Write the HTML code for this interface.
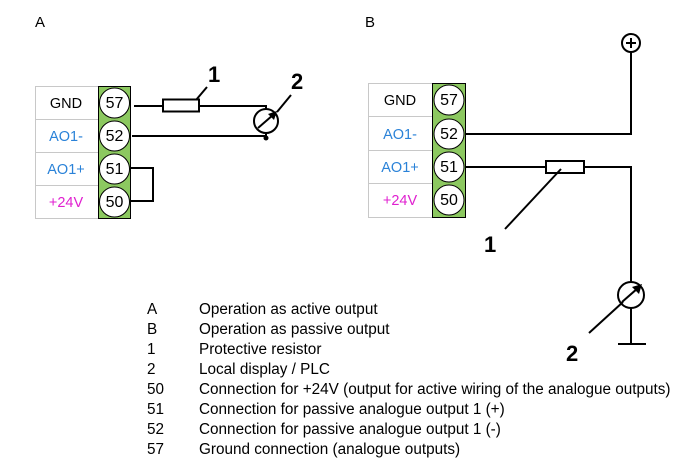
<!DOCTYPE html>
<html><head><meta charset="utf-8"><style>
html,body{margin:0;padding:0;background:#fff;}
svg{display:block;}
text{font-family:"Liberation Sans",Arial,sans-serif;}
</style></head><body>
<svg width="699" height="462" viewBox="0 0 699 462" xmlns="http://www.w3.org/2000/svg">
<text x="35" y="27" font-size="15">A</text>
<text x="365" y="27" font-size="15">B</text>

<!-- Panel A table -->
<g stroke="#c8c8c8" stroke-width="1" fill="#fff">
<rect x="35.5" y="86.5" width="63" height="132"/>
<line x1="35" y1="119.5" x2="98" y2="119.5"/>
<line x1="35" y1="152.5" x2="98" y2="152.5"/>
<line x1="35" y1="185.5" x2="98" y2="185.5"/>
</g>
<rect x="98.5" y="86.5" width="32" height="132" fill="#8cc860" stroke="#000" stroke-width="1"/>
<g stroke="#000" stroke-width="1" fill="#fff">
<circle cx="114.5" cy="103" r="15"/><circle cx="114.5" cy="136" r="15"/>
<circle cx="114.5" cy="169" r="15"/><circle cx="114.5" cy="202" r="15"/>
</g>
<g font-size="14.5" text-anchor="middle">
<text x="66" y="108">GND</text>
<text x="66" y="141" fill="#2a82d8">AO1-</text>
<text x="66" y="174" fill="#2a82d8">AO1+</text>
<text x="66" y="207" fill="#e020d0">+24V</text>
<text x="114.5" y="108" font-size="16">57</text>
<text x="114.5" y="141" font-size="16">52</text>
<text x="114.5" y="174" font-size="16">51</text>
<text x="114.5" y="207" font-size="16">50</text>
</g>
<g stroke="#000" stroke-width="2" fill="none">
<polyline points="134,106 163,106"/>
<rect x="163" y="99.5" width="36" height="12" fill="#fff"/>
<polyline points="199,106 266,106 266,110"/>
<circle cx="266" cy="121" r="12"/>
<line x1="132" y1="136" x2="266" y2="136"/>
<line x1="266" y1="133" x2="266" y2="137"/>
<polyline points="131,168 153,168 153,201 131,201"/>
<line x1="258" y1="128" x2="273" y2="115"/>
<line x1="196" y1="100" x2="207" y2="87"/>
<line x1="277" y1="112" x2="291" y2="95"/>
</g>
<polygon points="277,111 268,114 274,120" fill="#000"/>
<circle cx="266" cy="138" r="2.5" fill="#000"/>
<text x="208" y="82" font-size="22" font-weight="bold">1</text>
<text x="291" y="89" font-size="22" font-weight="bold">2</text>

<!-- Panel B table -->
<g stroke="#c8c8c8" stroke-width="1" fill="#fff">
<rect x="368.5" y="83.5" width="64" height="134"/>
<line x1="368" y1="116.5" x2="432" y2="116.5"/>
<line x1="368" y1="150.5" x2="432" y2="150.5"/>
<line x1="368" y1="183.5" x2="432" y2="183.5"/>
</g>
<rect x="432.5" y="83.5" width="33" height="134" fill="#8cc860" stroke="#000" stroke-width="1"/>
<g stroke="#000" stroke-width="1" fill="#fff">
<circle cx="449" cy="100" r="15"/><circle cx="449" cy="134" r="15"/>
<circle cx="449" cy="167" r="15"/><circle cx="449" cy="200" r="15"/>
</g>
<g font-size="14.5" text-anchor="middle">
<text x="400" y="105">GND</text>
<text x="400" y="139" fill="#2a82d8">AO1-</text>
<text x="400" y="172" fill="#2a82d8">AO1+</text>
<text x="400" y="205" fill="#e020d0">+24V</text>
<text x="449" y="105" font-size="16">57</text>
<text x="449" y="139" font-size="16">52</text>
<text x="449" y="172" font-size="16">51</text>
<text x="449" y="205" font-size="16">50</text>
</g>
<g stroke="#000" stroke-width="2" fill="none">
<circle cx="631" cy="43" r="9"/>
<line x1="626" y1="43" x2="636" y2="43"/><line x1="631" y1="38" x2="631" y2="48"/>
<polyline points="466,134 631,134 631,52"/>
<polyline points="466,167 546,167"/>
<rect x="546" y="161" width="38" height="12" fill="#fff"/>
<polyline points="584,167 631,167 631,282"/>
<circle cx="631" cy="295" r="13"/>
<line x1="631" y1="308" x2="631" y2="344"/>
<line x1="618" y1="344" x2="646" y2="344"/>
<line x1="622" y1="302" x2="638" y2="288"/>
<line x1="505" y1="229" x2="561" y2="169"/>
<line x1="589" y1="333" x2="623" y2="302"/>
</g>
<polygon points="642,284 632,287 639,294" fill="#000"/>
<text x="484" y="252" font-size="22" font-weight="bold">1</text>
<text x="566" y="361" font-size="22" font-weight="bold">2</text>

<!-- Legend -->
<g font-size="15.3" fill="#000">
<text x="147" y="314">A</text><text x="199" y="314">Operation as active output</text>
<text x="147" y="334">B</text><text x="199" y="334">Operation as passive output</text>
<text x="147" y="354">1</text><text x="199" y="354">Protective resistor</text>
<text x="147" y="374">2</text><text x="199" y="374">Local display / PLC</text>
<text x="147" y="394">50</text><text x="199" y="394">Connection for +24V (output for active wiring of the analogue outputs)</text>
<text x="147" y="414">51</text><text x="199" y="414">Connection for passive analogue output 1 (+)</text>
<text x="147" y="434">52</text><text x="199" y="434">Connection for passive analogue output 1 (-)</text>
<text x="147" y="454">57</text><text x="199" y="454">Ground connection (analogue outputs)</text>
</g>
</svg>
</body></html>
